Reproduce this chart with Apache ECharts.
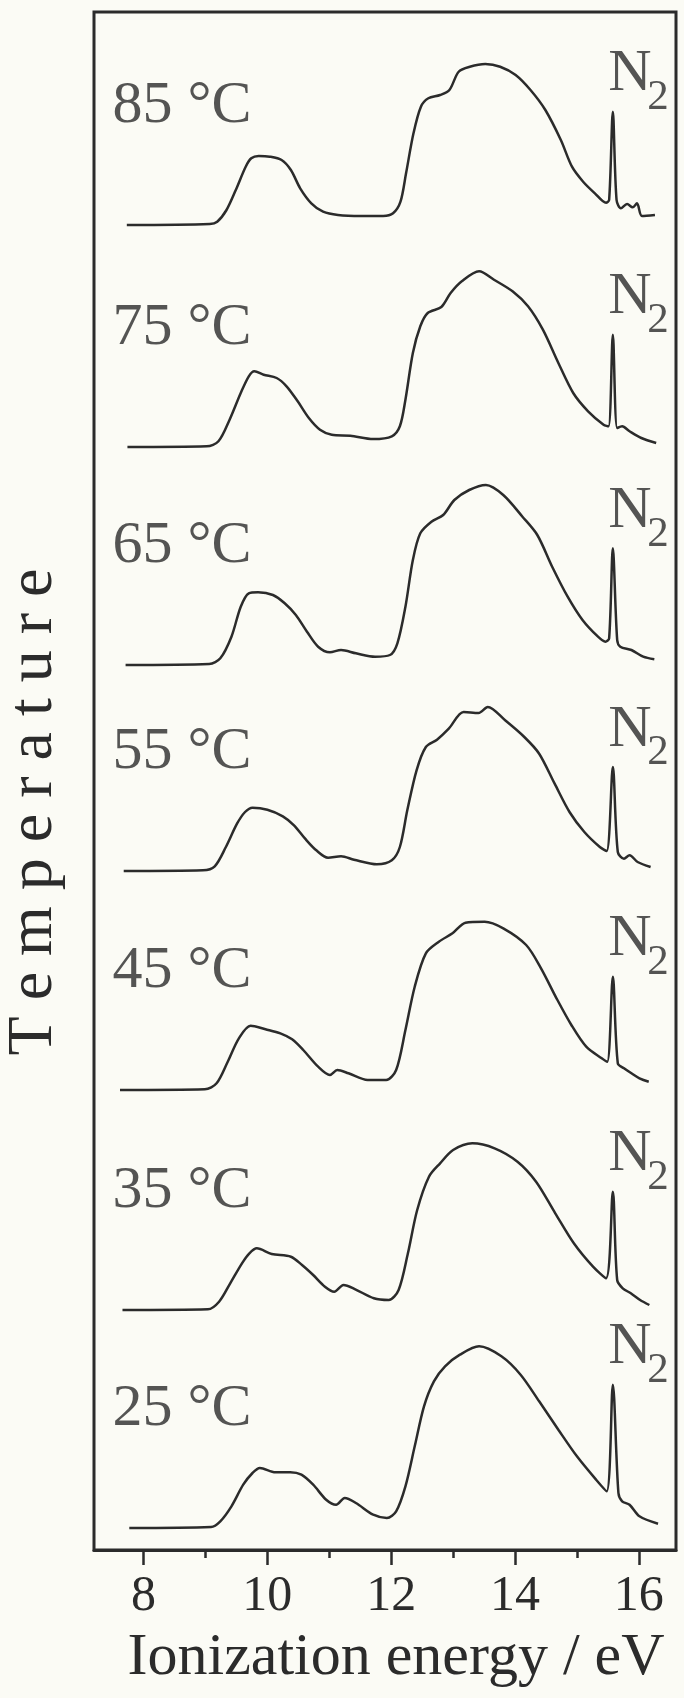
<!DOCTYPE html>
<html>
<head>
<meta charset="utf-8">
<script src="https://cdn.jsdelivr.net/npm/echarts@6/dist/echarts.min.js"></script>
<style>
  html, body { margin: 0; padding: 0; background: #fbfbf5; }
  #chart { width: 684px; height: 1698px; }
</style>
</head>
<body>
<div id="chart"></div>
<script>
// ---- data ----
const temps = ['85 °C', '75 °C', '65 °C', '55 °C', '45 °C', '35 °C', '25 °C'];
// vertical offset of each trace's baseline (arbitrary stacked units)
const baselines = [132.5, 110.3, 88.5, 67.9, 46.0, 24.0, 2.2];
const majorTicks = [8, 10, 12, 14, 16];
const minorTicks = [9, 11, 13, 15];

const spectrum85 = [[7.73,0],[9.07,0.1],[9.19,0.33],[9.34,1.5],[9.49,3.5],[9.65,5.83],[9.74,6.67],[9.86,6.9],[10.04,6.83],[10.23,6.5],[10.38,5.5],[10.53,3.67],[10.71,2.17],[10.9,1.33],[11.14,1.0],[11.51,0.9],[11.87,0.9],[12.03,1.17],[12.15,2.33],[12.24,5.17],[12.36,9.17],[12.48,11.83],[12.6,12.67],[12.79,13.0],[12.94,13.5],[13.09,15.33],[13.27,15.83],[13.52,16.1],[13.76,15.83],[14.01,15.0],[14.25,13.5],[14.49,11.5],[14.74,8.5],[14.92,5.83],[15.1,4.33],[15.29,3.17],[15.47,2.23],[15.52,2.5],[15.58,11.33],[15.64,2.5],[15.71,1.67],[15.81,2.1],[15.9,1.77],[15.97,2.17],[16.05,0.9],[16.26,1.0]];
const spectrum75 = [[7.74,0],[9.02,0.07],[9.21,0.57],[9.39,2.73],[9.57,5.4],[9.7,7.07],[9.79,7.57],[9.94,7.23],[10.15,6.9],[10.31,6.07],[10.49,4.57],[10.67,2.9],[10.85,1.73],[11.04,1.23],[11.34,1.13],[11.71,0.8],[12.01,1.07],[12.14,2.07],[12.23,4.73],[12.35,9.4],[12.47,12.07],[12.59,13.4],[12.81,14.0],[12.96,15.4],[13.14,16.57],[13.42,17.57],[13.66,16.73],[13.96,15.57],[14.21,14.07],[14.45,11.73],[14.7,8.4],[14.94,5.4],[15.18,3.57],[15.43,2.23],[15.51,2.07],[15.58,11.23],[15.65,1.9],[15.73,2.07],[15.85,1.57],[16.04,0.9],[16.28,0.4]];
const spectrum65 = [[7.71,0],[9.06,0.1],[9.24,0.67],[9.42,2.83],[9.57,5.83],[9.7,7.17],[9.85,7.27],[10.09,7.0],[10.28,6.17],[10.46,5.0],[10.64,3.33],[10.82,1.83],[11.01,1.27],[11.19,1.5],[11.43,1.17],[11.74,0.83],[11.98,1.0],[12.1,2.17],[12.23,5.83],[12.35,10.5],[12.47,13.17],[12.65,14.33],[12.84,15.0],[13.02,16.5],[13.26,17.5],[13.53,18.0],[13.81,17.0],[14.12,14.83],[14.36,13.0],[14.6,9.83],[14.85,6.83],[15.09,4.5],[15.34,2.83],[15.46,2.33],[15.52,2.67],[15.58,11.67],[15.65,2.5],[15.7,1.83],[15.88,1.5],[16.07,0.83],[16.25,0.57]];
const spectrum55 = [[7.68,0],[8.96,0.07],[9.15,0.47],[9.33,2.4],[9.51,4.73],[9.64,5.9],[9.76,6.33],[10.0,6.13],[10.25,5.47],[10.43,4.57],[10.61,3.23],[10.79,2.07],[10.98,1.33],[11.19,1.47],[11.4,1.13],[11.77,0.67],[12.01,1.07],[12.14,2.4],[12.26,6.07],[12.41,10.07],[12.56,12.4],[12.74,13.13],[12.93,14.23],[13.17,15.9],[13.41,15.8],[13.56,16.4],[13.84,15.07],[14.15,13.4],[14.39,11.73],[14.64,8.73],[14.88,5.9],[15.12,3.9],[15.37,2.4],[15.48,2.0],[15.58,10.4],[15.66,1.9],[15.76,1.23],[15.85,1.57],[15.98,0.9],[16.19,0.4]];
const spectrum45 = [[7.62,0],[8.99,0.07],[9.18,0.67],[9.36,2.83],[9.54,5.17],[9.73,6.43],[9.97,6.07],[10.21,5.67],[10.4,5.07],[10.58,4.0],[10.82,2.33],[11.01,1.5],[11.13,2.0],[11.31,1.67],[11.62,1.0],[11.92,1.0],[12.08,2.0],[12.23,6.0],[12.38,10.33],[12.56,13.67],[12.77,14.83],[12.99,15.67],[13.2,16.73],[13.51,16.83],[13.81,16.17],[14.18,14.5],[14.42,12.17],[14.67,9.17],[14.91,6.5],[15.15,4.33],[15.4,3.17],[15.49,2.83],[15.58,11.33],[15.66,2.67],[15.76,2.17],[15.88,1.67],[16.01,1.17],[16.16,0.83]];
const spectrum35 = [[7.66,0],[9.04,0.07],[9.22,0.83],[9.4,2.67],[9.59,4.67],[9.71,5.67],[9.83,6.17],[10.07,5.6],[10.38,5.33],[10.56,4.5],[10.74,3.5],[10.93,2.33],[11.08,1.83],[11.23,2.5],[11.42,2.07],[11.72,1.17],[11.96,1.0],[12.12,2.0],[12.27,5.67],[12.42,10.0],[12.61,13.33],[12.79,14.67],[13.0,16.0],[13.31,16.67],[13.67,16.17],[14.04,14.83],[14.34,12.83],[14.65,9.67],[14.95,6.67],[15.26,4.33],[15.47,3.17],[15.58,11.83],[15.65,3.0],[15.74,2.17],[15.87,1.67],[16.02,1.0],[16.17,0.5]];
const spectrum25 = [[7.77,0],[9.09,0.1],[9.24,0.67],[9.42,2.17],[9.61,4.33],[9.76,5.5],[9.88,6.0],[10.13,5.57],[10.37,5.57],[10.55,5.33],[10.74,4.33],[10.95,2.83],[11.11,2.33],[11.25,3.0],[11.43,2.5],[11.71,1.33],[11.93,1.0],[12.08,1.67],[12.23,4.17],[12.38,8.17],[12.53,12.17],[12.69,14.67],[12.87,16.17],[13.11,17.33],[13.42,18.17],[13.78,17.17],[14.09,15.33],[14.39,12.67],[14.7,9.83],[15.0,7.17],[15.31,4.83],[15.48,3.67],[15.58,14.33],[15.67,3.5],[15.73,2.67],[15.85,2.33],[16.01,1.17],[16.31,0.43]];

const spectra = [spectrum85, spectrum75, spectrum65, spectrum55, spectrum45, spectrum35, spectrum25];

// ---- build chart ----
const FONT = "'Liberation Serif', 'Times New Roman', serif";
const INK = '#2b2b2b';
const chart = echarts.init(document.getElementById('chart'), null, { renderer: 'canvas' });

const lineSeries = spectra.map((sp, i) => ({
  type: 'line',
  name: temps[i],
  data: sp.map(p => [p[0], p[1] + baselines[i]]),
  showSymbol: false,
  symbol: 'none',
  smooth: 0.3,
  lineStyle: { color: INK, width: 2.5 },
  silent: true,
  z: 3
}));

// label anchor points derived from the data
const n2Peaks = spectra.map(sp => {
  let best = sp[0];
  sp.forEach(p => { if (p[0] > 15.3 && p[1] > best[1]) best = p; });
  return best;
});

const tempLabelSeries = {
  type: 'scatter',
  symbolSize: 0,
  silent: true,
  data: temps.map((t, i) => ({ value: [7.5, baselines[i] + 11.9], name: t })),
  label: {
    show: true, position: 'right', distance: 0,
    formatter: p => p.name,
    fontFamily: FONT, fontSize: 60, color: INK
  }
};
const nLabelSeries = {
  type: 'scatter',
  symbolSize: 0,
  silent: true,
  data: n2Peaks.map((p, i) => [p[0] - 0.075, p[1] + baselines[i] + 3.7]),
  label: {
    show: true, position: 'right', distance: 0,
    formatter: 'N',
    fontFamily: FONT, fontSize: 60, color: INK
  }
};
const subLabelSeries = {
  type: 'scatter',
  symbolSize: 0,
  silent: true,
  data: n2Peaks.map((p, i) => [p[0] - 0.075, p[1] + baselines[i] + 3.7]),
  label: {
    show: true, position: 'right', distance: 0, offset: [39, 23],
    formatter: '2',
    fontFamily: FONT, fontSize: 43, color: INK
  }
};

const option = {
  backgroundColor: '#fbfbf5',
  animation: false,
  grid: {
    left: 94, right: 8, top: 12, bottom: 148,
    show: true, borderColor: INK, borderWidth: 3,
    containLabel: false
  },
  xAxis: [
    {
      type: 'value', min: 7.2, max: 16.6, position: 'bottom',
      axisLine: { show: true, lineStyle: { color: INK, width: 3 } },
      axisTick: { show: true, inside: false, length: 15, customValues: majorTicks, lineStyle: { color: INK, width: 2.5 } },
      axisLabel: { show: true, customValues: majorTicks, margin: 22, fontFamily: FONT, fontSize: 50, color: INK },
      splitLine: { show: false },
      name: 'Ionization energy / eV',
      nameLocation: 'middle',
      nameGap: 78,
      nameTextStyle: { fontFamily: FONT, fontSize: 60, color: INK, padding: [0, 0, 0, 22] }
    },
    {
      type: 'value', min: 7.2, max: 16.6, position: 'bottom',
      axisLine: { show: false },
      axisTick: { show: true, inside: false, length: 8, customValues: minorTicks, lineStyle: { color: INK, width: 2.5 } },
      axisLabel: { show: false },
      splitLine: { show: false }
    }
  ],
  yAxis: {
    type: 'value', min: 0, max: 153.8, show: false
  },
  graphic: [
    {
      type: 'text', x: 34, y: 812, rotation: Math.PI / 2,
      style: {
        text: 'T e m p e r a t u r e',
        font: "64px 'Liberation Serif', 'Times New Roman', serif",
        fill: INK, align: 'center', verticalAlign: 'middle'
      }
    }
  ],
  series: [...lineSeries, tempLabelSeries, nLabelSeries, subLabelSeries]
};
chart.setOption(option);
</script>
</body>
</html>
